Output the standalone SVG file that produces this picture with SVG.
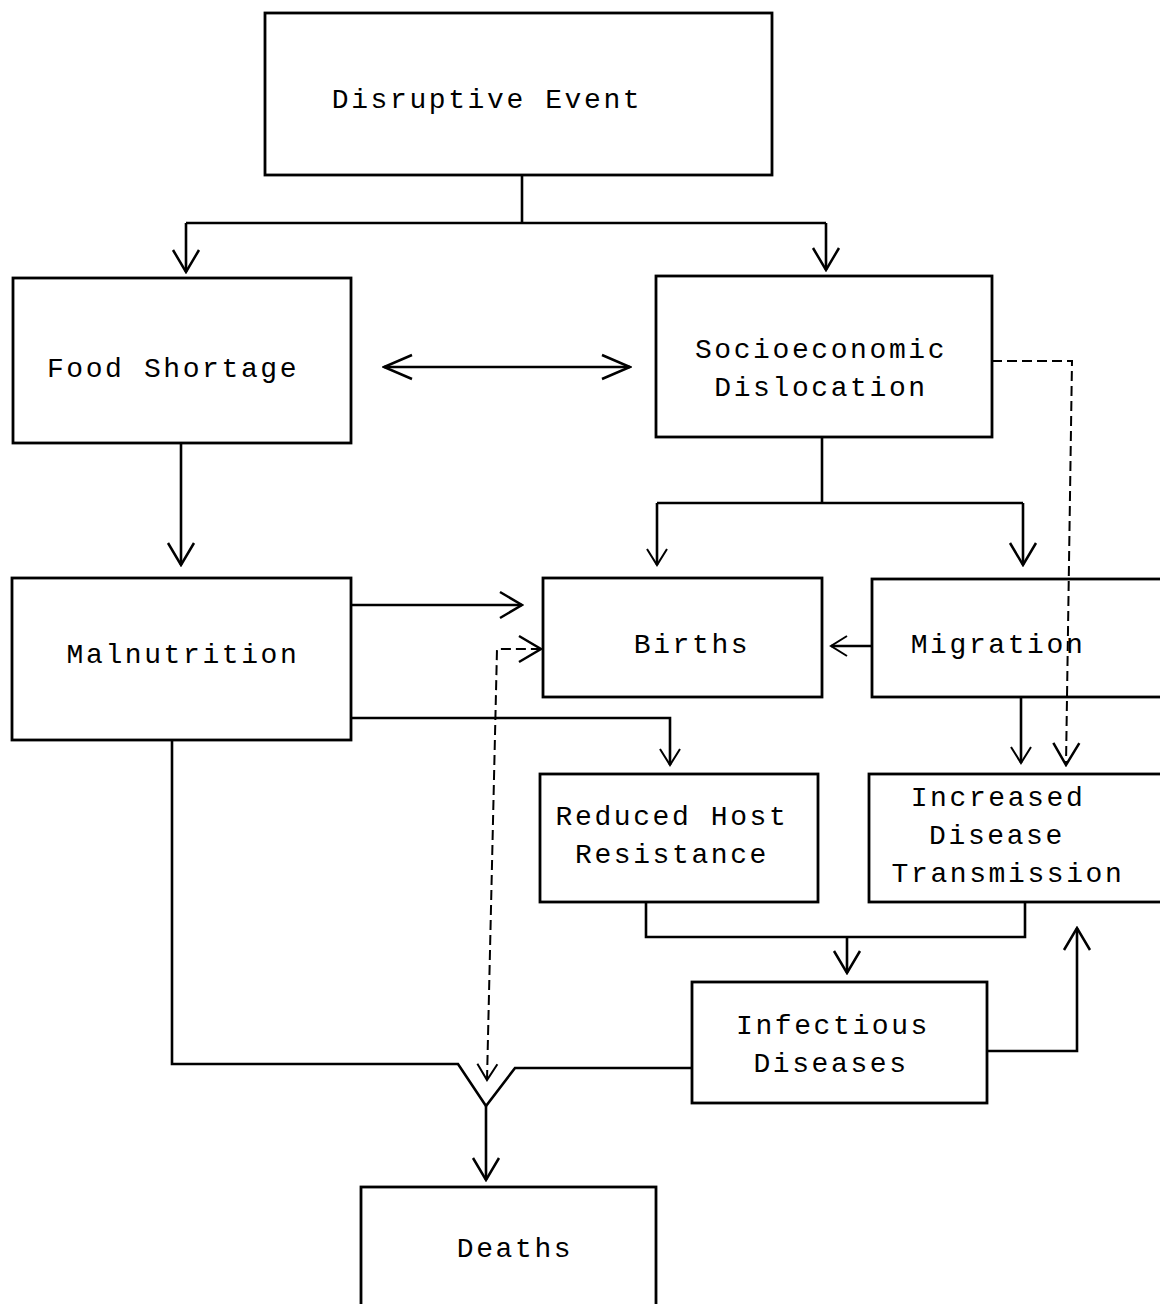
<svg xmlns="http://www.w3.org/2000/svg" width="1160" height="1304" viewBox="0 0 1160 1304">
<defs>
<style>
.box{fill:none;stroke:#000;stroke-width:2.8}
.t{font-family:"Liberation Mono","Courier New",monospace;font-size:28px;letter-spacing:2.6px;fill:#000;text-anchor:middle}
.ln{fill:none;stroke:#000;stroke-width:2.6}
.dash{fill:none;stroke:#000;stroke-width:2;stroke-dasharray:10 5}
</style>
<marker id="arr" viewBox="-2 -16 26 32" refX="22" refY="0" markerWidth="26" markerHeight="32" markerUnits="userSpaceOnUse" orient="auto-start-reverse">
<path d="M0,-13 L22,0 L0,13" fill="none" stroke="#000" stroke-width="2.5"/>
</marker>
<marker id="arrS" viewBox="-2 -12 20 24" refX="16" refY="0" markerWidth="20" markerHeight="24" markerUnits="userSpaceOnUse" orient="auto-start-reverse">
<path d="M0,-10 L16,0 L0,10" fill="none" stroke="#000" stroke-width="2"/>
</marker>
<marker id="arrL" viewBox="-2 -14 32 28" refX="28" refY="0" markerWidth="32" markerHeight="28" markerUnits="userSpaceOnUse" orient="auto-start-reverse">
<path d="M0,-12 L28,0 L0,12" fill="none" stroke="#000" stroke-width="2.5"/>
</marker>
</defs>
<rect width="1160" height="1304" fill="#fff"/>
<g id="connectors">
<path class="ln" d="M522,175 V223"/>
<path class="ln" d="M186,223 H826"/>
<path class="ln" d="M186,223 V272" marker-end="url(#arr)"/>
<path class="ln" d="M826,223 V270" marker-end="url(#arr)"/>
<path class="ln" d="M384,367 H630" marker-start="url(#arrL)" marker-end="url(#arrL)"/>
<path class="ln" d="M181,443 V565" marker-end="url(#arr)"/>
<path class="ln" d="M822,437 V503"/>
<path class="ln" d="M657,503 H1023"/>
<path class="ln" d="M657,503 V565" marker-end="url(#arrS)"/>
<path class="ln" d="M1023,503 V565" marker-end="url(#arr)"/>
<path class="dash" d="M992,361 H1072 L1066,765" marker-end="url(#arr)"/>
<path class="ln" d="M351,605 H522" marker-end="url(#arr)"/>
<path class="ln" d="M351,718 H670 V765" marker-end="url(#arrS)"/>
<path class="ln" d="M872,646 H831" marker-end="url(#arrS)"/>
<path class="ln" d="M1021,697 V763" marker-end="url(#arrS)"/>
<path class="ln" d="M646,902 V937 H1025 V902"/>
<path class="ln" d="M847,937 V973" marker-end="url(#arr)"/>
<path class="ln" d="M987,1051 H1077 V928" marker-end="url(#arr)"/>
<path class="ln" d="M172,740 V1064 H458 L486,1106 L515,1068 H692"/>
<path class="ln" d="M486,1106 V1180" marker-end="url(#arr)"/>
<path class="dash" d="M487,1080 L497,649 H541" marker-start="url(#arrS)" marker-end="url(#arr)"/>
</g>
<g id="disruptive-event">
<rect class="box" x="265" y="13" width="507" height="162"/>
<text class="t" x="487" y="108">Disruptive Event</text>
</g>
<g id="food-shortage">
<rect class="box" x="13" y="278" width="338" height="165"/>
<text class="t" x="173" y="377">Food Shortage</text>
</g>
<g id="socioeconomic-dislocation">
<rect class="box" x="656" y="276" width="336" height="161"/>
<text class="t" x="821" y="358">Socioeconomic</text>
<text class="t" x="821" y="396">Dislocation</text>
</g>
<g id="malnutrition">
<rect class="box" x="12" y="578" width="339" height="162"/>
<text class="t" x="183" y="663">Malnutrition</text>
</g>
<g id="births">
<rect class="box" x="543" y="578" width="279" height="119"/>
<text class="t" x="692" y="653">Births</text>
</g>
<g id="migration">
<rect class="box" x="872" y="579" width="300" height="118"/>
<text class="t" x="998" y="653">Migration</text>
</g>
<g id="reduced-host-resistance">
<rect class="box" x="540" y="774" width="278" height="128"/>
<text class="t" x="672" y="825">Reduced Host</text>
<text class="t" x="672" y="863">Resistance</text>
</g>
<g id="increased-disease-transmission">
<rect class="box" x="869" y="774" width="300" height="128"/>
<text class="t" x="998" y="806">Increased</text>
<text class="t" x="997" y="844">Disease</text>
<text class="t" x="1008" y="882">Transmission</text>
</g>
<g id="infectious-diseases">
<rect class="box" x="692" y="982" width="295" height="121"/>
<text class="t" x="833" y="1034">Infectious</text>
<text class="t" x="831" y="1072">Diseases</text>
</g>
<g id="deaths">
<rect class="box" x="361" y="1187" width="295" height="130"/>
<text class="t" x="515" y="1257">Deaths</text>
</g>
</svg>
